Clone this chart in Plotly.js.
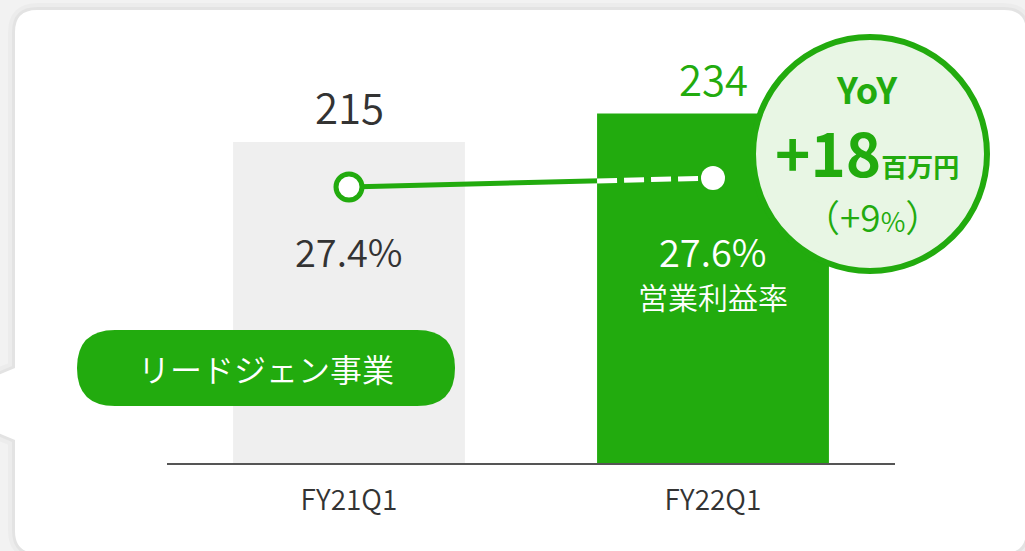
<!DOCTYPE html>
<html>
<head>
<meta charset="utf-8">
<script src="https://cdn.plot.ly/plotly-3.0.1.min.js"></script>
<style>
html,body{margin:0;padding:0;background:#f2f2f2;}
#chart{width:1025px;height:551px;}
</style>
</head>
<body>
<div id="chart"></div>
<script>
// ---- data ----
const categories = ['FY21Q1', 'FY22Q1'];
const profit = [215, 234];               // 営業利益 (百万円)
const margin = [27.4, 27.6];             // 営業利益率 (%)
const marginLabels = ['27.4%', '27.6%'];
const profitLabels = ['215', '234'];
const segmentName = 'リードジェン事業';
const marginName = '営業利益率';
const yoyTitle = 'YoY';
const yoyValue = '+18';
const yoyUnit = '百万円';
const yoyPct = '+9';

// ---- style ----
const GREEN = '#22ab0e';
const GREY = '#efefef';
const DARK = '#333333';
const FONT = '"Noto Sans CJK JP", "Noto Sans", sans-serif';
const LIGHT = 350;

const W = 1025, H = 551;
const M = {l: 167, r: 130, t: 40, b: 88};
const PW = W - M.l - M.r, PH = H - M.t - M.b;
const px = x => (x - M.l) / PW;
const py = y => (H - M.b - y) / PH;
function pathPx(pts) {
  return pts.map(c => c[0] + (c.length > 1 ? ' ' + c.slice(1).map((v, i) => i % 2 === 0 ? px(v) : py(v)).join(',') : '')).join(' ');
}
function roundRect(x0, y0, x1, y1, r) {
  return pathPx([
    ['M', x0 + r, y0], ['L', x1 - r, y0], ['Q', x1, y0, x1, y0 + r],
    ['L', x1, y1 - r], ['Q', x1, y1, x1 - r, y1], ['L', x0 + r, y1],
    ['Q', x0, y1, x0, y1 - r], ['L', x0, y0 + r], ['Q', x0, y0, x0 + r, y0], ['Z']
  ]);
}
const cx0 = 15, cy0 = 10, cx1 = 1026, cy1 = 553, cr = 22;
const cardPath = pathPx([
  ['M', cx0 + cr, cy0], ['L', cx1 - cr, cy0], ['Q', cx1, cy0, cx1, cy0 + cr],
  ['L', cx1, cy1 - cr], ['Q', cx1, cy1, cx1 - cr, cy1], ['L', cx0 + cr, cy1],
  ['Q', cx0, cy1, cx0, cy1 - cr], ['L', cx0, 440], ['L', -2, 433], ['L', -2, 375],
  ['L', cx0, 368], ['L', cx0, cy0 + cr], ['Q', cx0, cy0, cx0 + cr, cy0], ['Z']
]);

const barWidth = 0.637;
const xs = categories.map((c, i) => i);

// dashed part starts at the left edge of the second bar
const xEdge = xs[1] - barWidth / 2;
const tEdge = (xEdge - xs[0]) / (xs[1] - xs[0]);
const yEdge = margin[0] + (margin[1] - margin[0]) * tEdge;

const traces = [
  {
    type: 'bar', x: xs, y: profit, width: barWidth,
    marker: {color: [GREY, GREEN]}, hoverinfo: 'skip', showlegend: false
  },
  {
    type: 'scatter', mode: 'lines', x: xs, y: margin, yaxis: 'y2',
    line: {color: GREEN, width: 5}, hoverinfo: 'skip', showlegend: false
  },
  {
    type: 'scatter', mode: 'lines', x: [xEdge, xs[1]], y: [yEdge, margin[1]], yaxis: 'y2',
    line: {color: '#ffffff', width: 5, dash: '20px,7px'}, hoverinfo: 'skip', showlegend: false
  },
  {
    type: 'scatter', mode: 'markers', x: xs, y: margin, yaxis: 'y2',
    marker: {color: ['#ffffff', '#ffffff'], size: [26, 24], opacity: 1,
             line: {color: [GREEN, '#ffffff'], width: [5, 0]}},
    hoverinfo: 'skip', showlegend: false
  }
];

const annotations = [];
profit.forEach((v, i) => annotations.push({
  x: xs[i], y: v, xref: 'x', yref: 'y', text: profitLabels[i], showarrow: false,
  yanchor: 'middle', yshift: 36,
  font: {family: FONT, size: 42, weight: LIGHT, color: i === 1 ? GREEN : DARK}
}));
margin.forEach((v, i) => annotations.push({
  x: xs[i], y: py(250), xref: 'x', yref: 'paper', text: marginLabels[i], showarrow: false,
  yanchor: 'middle', font: {family: FONT, size: 38, weight: LIGHT, color: i === 1 ? '#ffffff' : DARK}
}));
annotations.push({
  x: xs[1], y: py(296), xref: 'x', yref: 'paper', text: marginName, showarrow: false,
  yanchor: 'middle', font: {family: FONT, size: 30, weight: LIGHT, color: '#ffffff'}
});
annotations.push({
  x: px(266), y: py(368), xref: 'paper', yref: 'paper', text: segmentName, showarrow: false,
  xanchor: 'center', yanchor: 'middle', font: {family: FONT, size: 32, weight: LIGHT, color: '#ffffff'}
});
annotations.push({
  x: px(867), y: py(88), xref: 'paper', yref: 'paper', text: '<b>' + yoyTitle + '</b>', showarrow: false,
  xanchor: 'center', yanchor: 'middle', font: {family: FONT, size: 36, color: GREEN}
});
annotations.push({
  x: px(867), y: py(150), xref: 'paper', yref: 'paper',
  text: '<b>' + yoyValue + '</b><span style="font-size:26px"><b>' + yoyUnit + '</b></span>', showarrow: false,
  xanchor: 'center', yanchor: 'middle', font: {family: FONT, size: 60, color: GREEN}
});
annotations.push({
  x: px(872), y: py(216), xref: 'paper', yref: 'paper',
  text: '（' + yoyPct + '<span style="font-size:27px">%</span>）', showarrow: false,
  xanchor: 'center', yanchor: 'middle', font: {family: FONT, size: 37, weight: LIGHT, color: GREEN}
});

const shapes = [
  {type: 'path', xref: 'paper', yref: 'paper', path: cardPath, layer: 'below',
   fillcolor: 'rgba(0,0,0,0)', line: {color: 'rgba(0,0,0,0.025)', width: 14}},
  {type: 'path', xref: 'paper', yref: 'paper', path: cardPath, layer: 'below',
   fillcolor: 'rgba(0,0,0,0)', line: {color: 'rgba(0,0,0,0.035)', width: 6}},
  {type: 'path', xref: 'paper', yref: 'paper', path: cardPath, layer: 'below',
   fillcolor: '#ffffff', line: {width: 0}},
  {type: 'path', xref: 'paper', yref: 'paper', path: roundRect(77, 330, 455, 406, 38), layer: 'above',
   fillcolor: GREEN, line: {width: 0}},
  {type: 'circle', xref: 'paper', yref: 'paper', layer: 'above',
   x0: px(753), x1: px(987), y0: py(271), y1: py(37),
   fillcolor: '#e8f6e4', line: {color: GREEN, width: 6}}
];

const layout = {
  width: W, height: H,
  margin: M,
  paper_bgcolor: '#f2f2f2',
  plot_bgcolor: 'rgba(0,0,0,0)',
  showlegend: false,
  xaxis: {
    range: [-0.5, 1.5], tickvals: xs, ticktext: categories,
    showgrid: false, zeroline: false, showline: true, linecolor: '#555555', linewidth: 2,
    ticks: '', ticklabelstandoff: 11,
    tickfont: {family: FONT, size: 28, weight: LIGHT, color: DARK}, fixedrange: true
  },
  yaxis: {range: [0, 283.3], visible: false, fixedrange: true},
  yaxis2: {range: [21.267, 30.667], overlaying: 'y', visible: false, fixedrange: true},
  shapes: shapes,
  annotations: annotations,
  font: {family: FONT}
};

Plotly.newPlot('chart', traces, layout, {displayModeBar: false, staticPlot: true});
</script>
</body>
</html>
